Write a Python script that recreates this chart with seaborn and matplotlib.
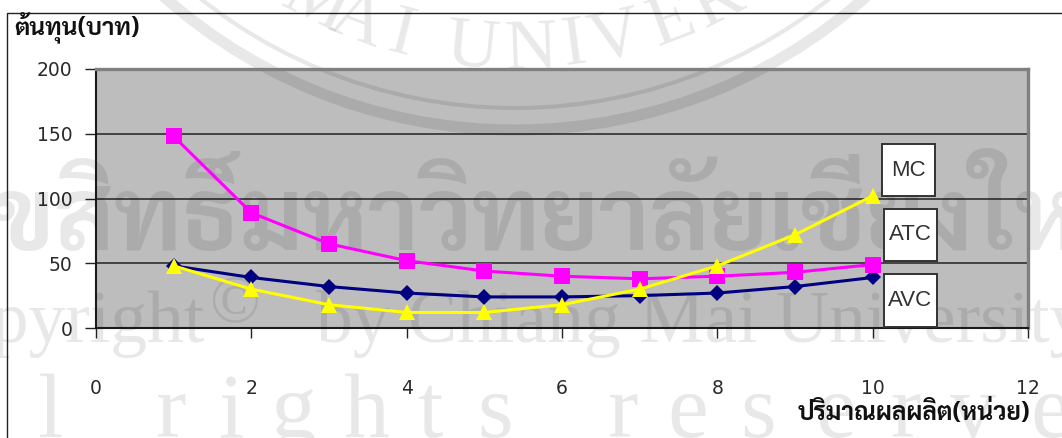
import numpy as np
import pandas as pd
import seaborn as sns
import matplotlib
matplotlib.use("Agg")
import matplotlib.pyplot as plt
from matplotlib import font_manager as fm
from matplotlib.patches import Rectangle, Circle
from matplotlib.lines import Line2D
from matplotlib.transforms import Affine2D

quantity = [1, 2, 3, 4, 5, 6, 7, 8, 9, 10]
avc = [48, 39, 32, 27, 24, 24, 25, 27, 32, 39]
atc = [148, 89, 65, 52, 44, 40, 38, 40, 43, 49]
mc = [48, 30, 18, 12, 12, 18, 30, 48, 72, 102]
series_names = ["AVC", "ATC", "MC"]
box_labels = ["MC", "ATC", "AVC"]
x_ticks = [0, 2, 4, 6, 8, 10, 12]
y_ticks = [0, 50, 100, 150, 200]
y_title = "ต้นทุน(บาท)"
x_title = "ปริมาณผลผลิต(หน่วย)"

W, H = 1062, 438
sns.set_theme(style="white")

installed = {f.name for f in fm.fontManager.ttflist}
thai_font = next((n for n in ["Sarabun", "Noto Sans Thai", "Athiti"] if n in installed), "DejaVu Sans")
plt.rcParams["font.family"] = ["Liberation Sans", "DejaVu Sans"]

fig = plt.figure(figsize=(W / 100, H / 100), dpi=100, facecolor="white")
ax = fig.add_axes([96 / W, (H - 328) / H, (1028 - 96) / W, (328 - 69) / H])
ax.set_facecolor("#BDBDBD")

# Long-form table for the three cost curves
frame = pd.DataFrame({
    "q": quantity * 3,
    "cost": avc + atc + mc,
    "curve": np.repeat(series_names, len(quantity)),
})
sns.lineplot(
    data=frame, x="q", y="cost", hue="curve", style="curve",
    hue_order=series_names, style_order=series_names,
    palette={"AVC": "#000080", "ATC": "#FF00FF", "MC": "#FFFF00"},
    dashes=False, markers={"AVC": "D", "ATC": "s", "MC": "^"},
    markersize=11, markeredgewidth=0, linewidth=2.2,
    legend=False, errorbar=None, sort=False, ax=ax, zorder=4,
)
for line, size in zip(ax.get_lines(), [8, 11, 12]):
    line.set_markersize(size)

ax.set_xlim(0, 12)
ax.set_ylim(0, 200)
ax.set_xticks(x_ticks)
ax.set_yticks(y_ticks)
ax.set_xlabel("")
ax.set_ylabel("")
ax.grid(False)
ax.set_axisbelow(True)
ax.yaxis.grid(True, color="#222222", linewidth=1.1)
ax.tick_params(axis="x", direction="out", length=7.5, width=1, color="#222222", pad=29,
               labelsize=13.5, labelcolor="#2a2a2a", bottom=True)
ax.tick_params(axis="y", direction="out", length=8, width=1, color="#222222", pad=9,
               labelsize=13.5, labelcolor="#2a2a2a", left=True)
for label in ax.get_xticklabels() + ax.get_yticklabels():
    label.set_family("DejaVu Sans")
for side in ("left", "bottom"):
    ax.spines[side].set_color("#1a1a1a")
    ax.spines[side].set_linewidth(1.5)
for side in ("top", "right"):
    ax.spines[side].set_color("#808080")
    ax.spines[side].set_linewidth(2.4)

# Pixel coordinates, origin at the top left corner of the canvas
px = Affine2D().scale(1, -1).translate(0, H)

# Outer chart frame: only the top and left edges show
ax.add_artist(Line2D([7, 7, W], [H, 13, 13], transform=px, color="#222222", lw=1.0,
                     clip_on=False, zorder=1))

# Axis titles
ax.text(14, 35, y_title, transform=px, family=thai_font, fontweight="bold", fontsize=17.5,
        color="#111111", ha="left", va="baseline", clip_on=False)
ax.text(1030, 420, x_title, transform=px, family=thai_font, fontweight="bold", fontsize=17.8,
        color="#111111", ha="right", va="baseline", clip_on=False)

# Curve name boxes to the right of the last points
boxes = [(882, 144, 53, 52), (884, 209, 53, 52), (884, 274, 53, 53)]
for label, (bx, by, bw, bh) in zip(box_labels, boxes):
    ax.add_patch(Rectangle((bx, by), bw, bh, transform=px, facecolor="white", edgecolor="#333333",
                           linewidth=1.4, clip_on=False, zorder=5))
    ax.text(bx + bw / 2, by + bh / 2, label, transform=px, fontsize=16, color="#333333",
            ha="center", va="center", zorder=6, clip_on=False)

# University watermark spread across the page
ink = dict(transform=px, color="black", alpha=0.09, clip_on=False, zorder=1.5)
ax.text(-69, 250, "ลิขสิทธิ์มหาวิทยาลัยเชียงใหม่", family=thai_font, fontweight="bold", fontsize=72,
        ha="left", va="baseline", **ink)
serif = ["Liberation Serif", "DejaVu Serif"]
ax.text(204, 342, "Copyright", family=serif, fontsize=53, ha="right", va="baseline", **ink)
ax.text(209, 322, "©", family=serif, fontsize=48, ha="left", va="baseline", **ink)
ax.text(316, 342, "by Chiang Mai University", family=serif, fontsize=53,
        ha="left", va="baseline", **ink)
spaced = "lrightsreserve"
spaced_x = [37, 155, 218, 270, 343, 417, 477, 607, 667, 740, 815, 890, 950, 1030]
for ch, cx in zip(spaced, spaced_x):
    ax.text(cx, 437, ch, family=serif, fontsize=66, ha="left", va="baseline", **ink)

# Seal at the top of the page: two rings and curved lettering
seal_x, seal_y = 515, -399
for radius, width in [(529, 8), (507, 3)]:
    ax.add_patch(Circle((seal_x, seal_y), radius, transform=px, fill=False, edgecolor="black",
                        alpha=0.09, linewidth=width, clip_on=False, zorder=1.5))
seal_text = "MAIUNIVER"
seal_angles = [-26.3, -20.6, -14.6, -5.5, 2.1, 7.6, 12.9, 20.5, 26.9]
for ch, deg in zip(seal_text, seal_angles):
    rad = np.deg2rad(deg)
    r = 467
    ax.text(seal_x + r * np.sin(rad), seal_y + r * np.cos(rad), ch, family=serif, fontsize=52,
            rotation=deg, rotation_mode="anchor", ha="center", va="baseline", **ink)

fig.savefig("out.png", dpi=100)
